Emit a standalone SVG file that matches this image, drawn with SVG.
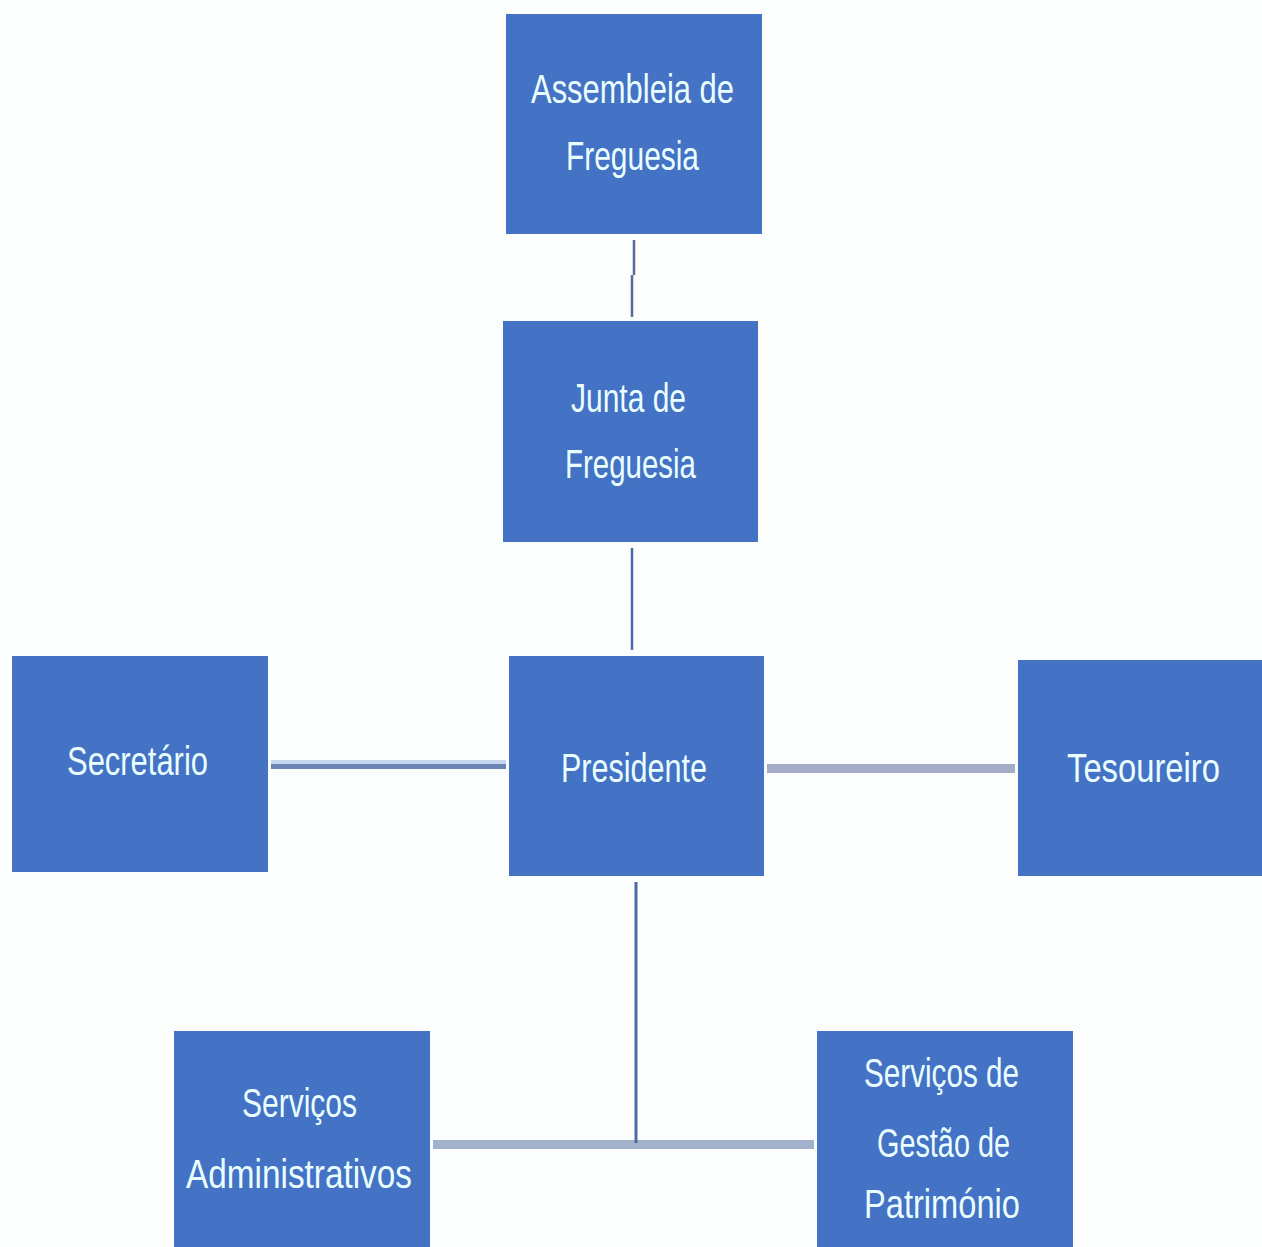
<svg xmlns="http://www.w3.org/2000/svg" width="1262" height="1247" viewBox="0 0 1262 1247">
<style>
.box{fill:#4472C4}
.t{font-family:"Liberation Sans","DejaVu Sans Condensed",sans-serif;font-size:40px;fill:#EAFEFF}
</style>
<rect width="1262" height="1247" fill="#FCFEFE"/>
<g id="connectors" fill="none">
<path d="M634 240V275M632 275V317" stroke="#5A6A9E" stroke-width="2.5"/>
<path d="M632 548V650" stroke="#4F68A8" stroke-width="2.5"/>
<path d="M271 762H506" stroke="#C5D5F0" stroke-width="4"/>
<path d="M271 766.5H506" stroke="#6A84B4" stroke-width="5"/>
<path d="M767 768.5H1015" stroke="#A3ACC8" stroke-width="9"/>
<path d="M433 1144.5H814" stroke="#A3B2CC" stroke-width="9"/>
<path d="M636 882V1143" stroke="#4F6AA8" stroke-width="3"/>
</g>
<g id="assembleia">
<rect class="box" x="506" y="14" width="256" height="220"/>
<text class="t" x="531" y="103" textLength="203" lengthAdjust="spacingAndGlyphs">Assembleia de</text>
<text class="t" x="566" y="170" textLength="133" lengthAdjust="spacingAndGlyphs">Freguesia</text>
</g>
<g id="junta">
<rect class="box" x="503" y="321" width="255" height="221"/>
<text class="t" x="571" y="412" textLength="115" lengthAdjust="spacingAndGlyphs">Junta de</text>
<text class="t" x="565" y="478" textLength="131" lengthAdjust="spacingAndGlyphs">Freguesia</text>
</g>
<g id="presidente">
<rect class="box" x="509" y="656" width="255" height="220"/>
<text class="t" x="561" y="782" textLength="146" lengthAdjust="spacingAndGlyphs">Presidente</text>
</g>
<g id="secretario">
<rect class="box" x="12" y="656" width="256" height="216"/>
<text class="t" x="67" y="775" textLength="141" lengthAdjust="spacingAndGlyphs">Secretário</text>
</g>
<g id="tesoureiro">
<rect class="box" x="1018" y="660" width="244" height="216"/>
<text class="t" x="1067" y="782" textLength="153" lengthAdjust="spacingAndGlyphs">Tesoureiro</text>
</g>
<g id="servicos-administrativos">
<rect class="box" x="174" y="1031" width="256" height="216"/>
<text class="t" x="242" y="1117" textLength="115" lengthAdjust="spacingAndGlyphs">Serviços</text>
<text class="t" x="186" y="1188" textLength="226" lengthAdjust="spacingAndGlyphs">Administrativos</text>
</g>
<g id="servicos-gestao-patrimonio">
<rect class="box" x="817" y="1031" width="256" height="216"/>
<text class="t" x="864" y="1087" textLength="155" lengthAdjust="spacingAndGlyphs">Serviços de</text>
<text class="t" x="877" y="1157" textLength="133" lengthAdjust="spacingAndGlyphs">Gestão de</text>
<text class="t" x="864" y="1218" textLength="156" lengthAdjust="spacingAndGlyphs">Património</text>
</g>
</svg>
